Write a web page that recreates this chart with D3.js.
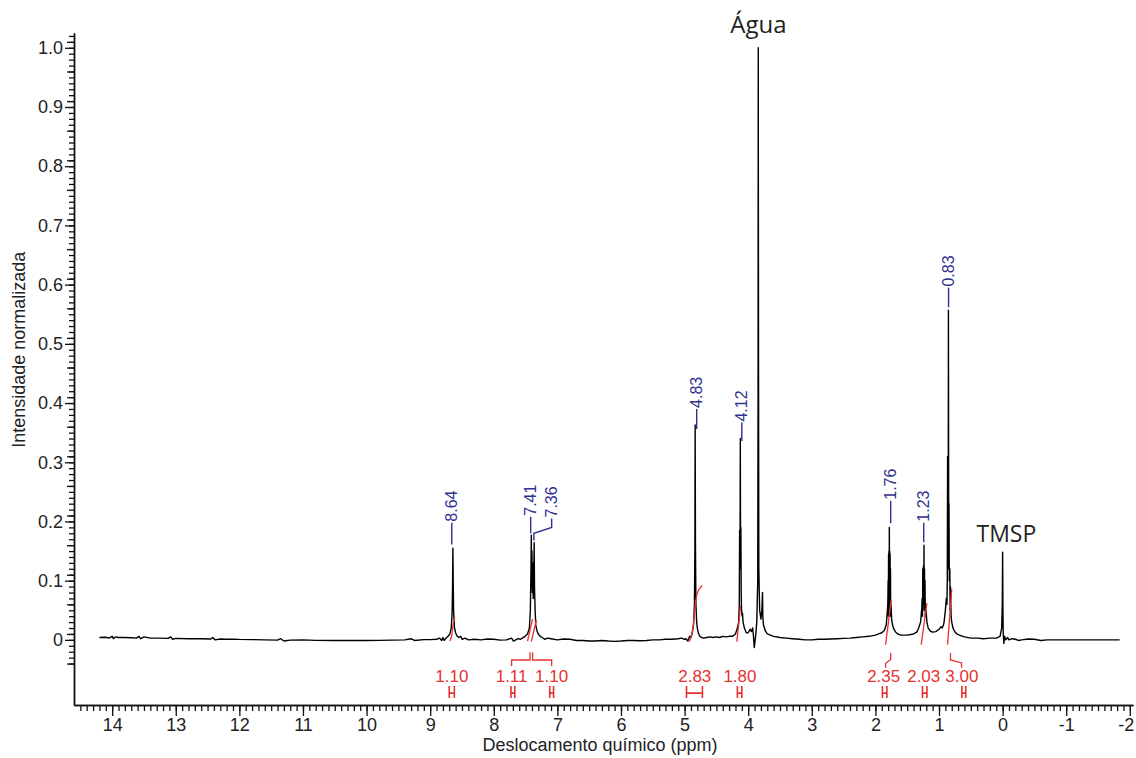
<!DOCTYPE html>
<html>
<head>
<meta charset="utf-8">
<script src="https://cdn.jsdelivr.net/npm/d3@7"></script>
<style>
  body { margin: 0; background: #fff; }
  .axis text { font-family: "Liberation Sans", Arial, sans-serif; font-size: 18px; fill: #222; }
  .axis path, .axis line { stroke: #111; stroke-width: 1.3; }
</style>
</head>
<body>
<div id="my_dataviz"></div>
<script>
// spectrum points [ppm, intensity]
var spectrum = [
  [14.2,0.004],[14.1,0.0045],[14.05,0.003],[14.0,0.006],[13.98,0.002],[13.95,0.005],[13.9,0.004],[13.8,0.004],
  [13.7,0.0035],[13.62,0.003],[13.58,0.006],[13.55,0.002],[13.5,0.005],[13.4,0.003],[13.3,0.003],[13.12,0.0025],
  [13.08,0.005],[13.05,0.001],[13.0,0.0025],[12.8,0.002],[12.6,0.002],[12.45,0.0015],[12.42,0.004],[12.38,0.0],
  [12.3,0.0015],[12.2,0.001],[12.1,0.0012],[12.0,0.0008],[11.8,0.0005],[11.6,0.0],[11.4,-0.0005],[11.35,0.002],
  [11.3,-0.002],[11.2,-0.0005],[11.0,0.0],[10.8,-0.0008],[10.5,-0.001],[10.2,-0.001],[10.0,-0.001],[9.8,-0.0008],
  [9.6,-0.0005],[9.4,0.0],[9.3,0.002],[9.25,-0.001],[9.1,0.0005],[9.0,0.0005],[8.9,0.001],[8.85,0.003],[8.82,-0.001],
  [8.8,0.004],[8.78,-0.001],[8.75,0.003],[8.72,0.006],[8.69,0.01],[8.67,0.02],[8.655,0.045],[8.648,0.09],
  [8.643,0.155],[8.638,0.1],[8.632,0.05],[8.62,0.022],[8.6,0.012],[8.58,0.007],[8.55,0.004],[8.52,0.006],
  [8.5,0.001],[8.45,0.003],[8.4,0.0],[8.3,0.001],[8.2,0.0],[8.1,0.0015],[8.0,0.001],[7.9,-0.0005],[7.8,0.0],
  [7.72,0.003],[7.69,-0.002],[7.62,0.002],[7.58,0.001],[7.55,0.003],[7.52,0.005],[7.47,0.01],[7.44,0.02],
  [7.425,0.05],[7.415,0.12],[7.41,0.177],[7.405,0.09],[7.4,0.15],[7.395,0.08],[7.385,0.13],[7.38,0.07],
  [7.37,0.12],[7.365,0.164],[7.36,0.09],[7.35,0.05],[7.34,0.025],[7.32,0.015],[7.3,0.01],[7.27,0.006],
  [7.24,0.004],[7.2,0.001],[7.15,0.003],[7.1,0.002],[7.0,0.0],[6.9,0.0015],[6.8,0.001],[6.7,-0.001],
  [6.6,-0.001],[6.5,-0.002],[6.4,-0.002],[6.3,-0.001],[6.2,-0.002],[6.1,-0.0025],[6.0,-0.002],[5.9,-0.001],
  [5.8,-0.001],[5.7,-0.0015],[5.6,-0.001],[5.5,0.0],[5.4,0.0],[5.3,0.001],[5.2,0.001],[5.1,0.002],
  [5.05,0.003],[5.0,0.001],[4.98,0.002],[4.95,-0.002],[4.92,0.006],[4.9,0.004],[4.88,0.012],[4.86,0.025],
  [4.845,0.06],[4.838,0.157],[4.834,0.363],[4.829,0.16],[4.822,0.06],[4.81,0.03],[4.8,0.02],[4.785,0.012],
  [4.76,0.006],[4.73,0.004],[4.7,0.003],[4.65,0.004],[4.6,0.005],[4.55,0.004],[4.5,0.005],[4.45,0.004],
  [4.4,0.006],[4.35,0.005],[4.3,0.006],[4.25,0.006],[4.2,0.01],[4.17,0.02],[4.15,0.03],[4.14,0.06],
  [4.135,0.185],[4.13,0.12],[4.127,0.2],[4.124,0.34],[4.12,0.15],[4.115,0.19],[4.11,0.08],[4.105,0.05],
  [4.095,0.04],[4.09,0.045],[4.08,0.03],[4.06,0.02],[4.03,0.012],[4.0,0.012],[3.97,0.018],[3.95,0.014],
  [3.93,0.02],[3.92,0.01],[3.905,-0.013],[3.895,-0.004],[3.88,0.01],[3.865,0.03],[3.85,0.1],[3.845,0.4],
  [3.842,1.0],[3.838,0.5],[3.833,0.12],[3.82,0.05],[3.8,0.035],[3.785,0.05],[3.775,0.08],[3.77,0.04],
  [3.76,0.025],[3.73,0.015],[3.7,0.01],[3.65,0.008],[3.6,0.006],[3.5,0.004],[3.4,0.003],[3.3,0.002],
  [3.2,0.001],[3.1,0.0],[3.0,0.0],[2.9,0.001],[2.8,0.001],[2.7,0.0015],[2.6,0.002],[2.5,0.0025],
  [2.4,0.003],[2.3,0.004],[2.2,0.005],[2.1,0.006],[2.0,0.008],[1.95,0.01],[1.9,0.012],[1.86,0.016],
  [1.83,0.025],[1.815,0.045],[1.805,0.06],[1.8,0.1],[1.797,0.04],[1.793,0.145],[1.79,0.05],[1.787,0.15],
  [1.784,0.06],[1.781,0.19],[1.778,0.07],[1.775,0.15],[1.772,0.06],[1.769,0.145],[1.766,0.05],[1.763,0.12],
  [1.76,0.04],[1.755,0.06],[1.745,0.035],[1.73,0.025],[1.71,0.018],[1.68,0.013],[1.65,0.01],[1.6,0.008],
  [1.5,0.008],[1.4,0.01],[1.35,0.013],[1.32,0.02],[1.29,0.03],[1.27,0.055],[1.265,0.07],[1.26,0.04],
  [1.255,0.12],[1.25,0.05],[1.245,0.125],[1.24,0.06],[1.236,0.16],[1.232,0.06],[1.228,0.12],[1.224,0.05],
  [1.22,0.1],[1.215,0.04],[1.205,0.05],[1.19,0.03],[1.17,0.02],[1.14,0.015],[1.1,0.013],[1.05,0.014],
  [1.0,0.018],[0.97,0.022],[0.95,0.02],[0.93,0.025],[0.92,0.03],[0.9,0.05],[0.885,0.07],[0.875,0.06],
  [0.87,0.1],[0.865,0.31],[0.86,0.12],[0.855,0.2],[0.852,0.557],[0.848,0.2],[0.843,0.23],[0.838,0.1],
  [0.83,0.12],[0.825,0.05],[0.82,0.09],[0.81,0.04],[0.8,0.03],[0.78,0.02],[0.76,0.015],[0.72,0.01],
  [0.68,0.008],[0.6,0.005],[0.5,0.003],[0.4,0.003],[0.3,0.002],[0.2,0.003],[0.1,0.003],[0.04,0.006],
  [0.015,0.02],[0.005,0.06],[0.0,0.148],[-0.005,0.05],[-0.01,0.01],[-0.02,-0.006],[-0.03,0.006],[-0.05,0.0],
  [-0.08,0.004],[-0.1,0.0],[-0.15,0.002],[-0.2,0.001],[-0.25,-0.001],[-0.3,0.0],[-0.4,0.0015],[-0.5,0.001],
  [-0.6,-0.001],[-0.7,0.0],[-0.8,0.0],[-1.0,0.0],[-1.2,0.0],[-1.4,0.0],[-1.6,0.0],[-1.84,0.0]
];

// integral curves [ppm, value]
var integralCurves = [
  [[8.69,-0.002],[8.66,0.006],[8.645,0.022],[8.63,0.034],[8.61,0.038]],
  [[7.47,-0.002],[7.39,0.035]],
  [[7.41,-0.003],[7.33,0.034]],
  [[4.93,-0.003],[4.87,0.01],[4.84,0.055],[4.81,0.078],[4.77,0.087],[4.72,0.092]],
  [[4.18,-0.003],[4.15,0.025],[4.12,0.058]],
  [[1.84,-0.008],[1.75,0.068]],
  [[1.28,-0.008],[1.19,0.062]],
  [[0.865,-0.008],[0.80,0.086]]
];

// integral values and marker ranges (ppm)
var integLabels = ["1.10","1.11","1.10","2.83","1.80","2.35","2.03","3.00"];
var integCenters = [8.66, 7.72, 7.09, 4.84, 4.13, 1.87, 1.24, 0.64];
var integRanges = [[8.70,8.62],[7.73,7.67],[7.12,7.06],[4.97,4.72],[4.17,4.10],[1.89,1.82],[1.26,1.19],[0.64,0.58]];
var integLinks = [
  [[7.72,-0.044],[7.72,-0.034],[7.43,-0.034],[7.43,-0.021]],
  [[7.39,-0.021],[7.39,-0.034],[7.09,-0.034],[7.09,-0.044]],
  [[1.76,-0.022],[1.76,-0.033],[1.84,-0.04],[1.84,-0.047]],
  [[0.82,-0.022],[0.82,-0.034],[0.645,-0.039],[0.645,-0.047]]
];

// peak picking labels
var peakTexts = ["8.64","7.41","7.36","4.83","4.12","1.76","1.23","0.83"];
var peakLeaders = [
  [[8.66,0.161],[8.66,0.198]],
  [[7.42,0.18],[7.42,0.208]],
  [[7.37,0.168],[7.37,0.18],[7.09,0.19],[7.09,0.205]],
  [[4.81,0.356],[4.81,0.39]],
  [[4.10,0.336],[4.10,0.367]],
  [[1.76,0.197],[1.76,0.235]],
  [[1.24,0.165],[1.24,0.198]],
  [[0.85,0.562],[0.85,0.595]]
];

var xTicks = d3.range(-2, 15);
var yTicks = d3.range(0, 11).map(function(d) { return d / 10; });

var width = 1136, height = 758;
var red = "#e4322f", navy = "#2e3192";

var svg = d3.select("#my_dataviz")
  .append("svg")
    .attr("width", width)
    .attr("height", height);

var x = d3.scaleLinear().domain([14.6, -2.05]).range([74, 1133]);
var y = d3.scaleLinear().domain([-0.11, 1.025]).range([705, 33]);

// Y axis with minor ticks
svg.append("g")
  .attr("class", "axis")
  .attr("transform", "translate(74,0)")
  .call(d3.axisLeft(y).tickValues(d3.range(-4, 103).map(function(d) { return d / 100; }))
    .tickSize(5).tickSizeOuter(0).tickFormat(""));
svg.append("g")
  .attr("class", "axis")
  .attr("transform", "translate(74,0)")
  .call(d3.axisLeft(y).tickValues(d3.range(-4, 103, 5).map(function(d) { return d / 100; }))
    .tickSize(7).tickSizeOuter(0).tickFormat(""));
svg.append("g")
  .attr("class", "axis")
  .attr("transform", "translate(74,0)")
  .call(d3.axisLeft(y).tickValues(yTicks).tickSize(9).tickSizeOuter(0).tickPadding(2)
    .tickFormat(function(d) { return d === 0 ? "0" : d3.format(".1f")(d); }));

// X axis with minor ticks
svg.append("g")
  .attr("class", "axis")
  .attr("transform", "translate(0,705)")
  .call(d3.axisBottom(x).tickValues(d3.range(-20, 146).map(function(d) { return d / 10; }))
    .tickSize(6).tickSizeOuter(0).tickFormat(""));
var xAxis = svg.append("g")
  .attr("class", "axis")
  .attr("transform", "translate(0,705)")
  .call(d3.axisBottom(x).tickValues(xTicks).tickSize(11).tickSizeOuter(0).tickPadding(2)
    .tickFormat(function(d) { return String(d); }));
// keep the last label inside the frame
xAxis.selectAll(".tick text")
  .filter(function(d) { return d === -2; })
  .attr("dx", "-4px");

// axis titles
svg.append("text")
  .attr("x", 600).attr("y", 751)
  .attr("text-anchor", "middle")
  .style("font-family", "Liberation Sans, Arial, sans-serif")
  .style("font-size", "18px").style("fill", "#222")
  .text("Deslocamento químico (ppm)");
svg.append("text")
  .attr("transform", "translate(25," + y(0.49) + ")rotate(-90)")
  .attr("text-anchor", "middle")
  .style("font-family", "Liberation Sans, Arial, sans-serif")
  .style("font-size", "18px").style("fill", "#222")
  .text("Intensidade normalizada");

var line = d3.line()
  .x(function(d) { return x(d[0]); })
  .y(function(d) { return y(d[1]); });

// spectrum
svg.append("path")
  .datum(spectrum)
  .attr("d", line)
  .attr("fill", "none")
  .attr("stroke", "#000")
  .attr("stroke-width", 1.4)
  .attr("stroke-linejoin", "round");

// integral curves
svg.selectAll("path.integ")
  .data(integralCurves)
  .enter()
  .append("path")
  .attr("class", "integ")
  .attr("d", d3.line().x(function(d) { return x(d[0]); }).y(function(d) { return y(d[1]); }).curve(d3.curveBasis))
  .attr("fill", "none")
  .attr("stroke", red)
  .attr("stroke-width", 1.3);

// integral links
svg.selectAll("path.link")
  .data(integLinks)
  .enter()
  .append("path")
  .attr("class", "link")
  .attr("d", line)
  .attr("fill", "none")
  .attr("stroke", red)
  .attr("stroke-width", 1.3);

// integral values
svg.selectAll("text.integ")
  .data(integLabels)
  .enter()
  .append("text")
  .attr("class", "integ")
  .attr("x", function(d, i) { return x(integCenters[i]); })
  .attr("y", y(-0.061))
  .attr("dy", "0.35em")
  .attr("text-anchor", "middle")
  .style("font-family", "Liberation Sans, Arial, sans-serif")
  .style("font-size", "17px")
  .style("fill", red)
  .text(function(d) { return d; });

// integral range markers
svg.selectAll("path.mark")
  .data(integRanges)
  .enter()
  .append("path")
  .attr("class", "mark")
  .attr("d", function(d) {
    var a = x(d[0]), b = x(d[1]), t = y(-0.078), m = y(-0.09), bt = y(-0.098);
    return "M" + a + "," + t + "V" + bt + "M" + b + "," + t + "V" + bt + "M" + a + "," + m + "H" + b;
  })
  .attr("fill", "none")
  .attr("stroke", red)
  .attr("stroke-width", 1.6);

// peak leaders and labels
svg.selectAll("path.leader")
  .data(peakLeaders)
  .enter()
  .append("path")
  .attr("class", "leader")
  .attr("d", line)
  .attr("fill", "none")
  .attr("stroke", navy)
  .attr("stroke-width", 1.4);

svg.selectAll("text.peak")
  .data(peakTexts)
  .enter()
  .append("text")
  .attr("class", "peak")
  .attr("transform", function(d, i) {
    var p = peakLeaders[i][peakLeaders[i].length - 1];
    return "translate(" + x(p[0]) + "," + (y(p[1]) - 1) + ")rotate(-90)";
  })
  .attr("dy", "0.35em")
  .style("font-family", "Liberation Sans, Arial, sans-serif")
  .style("font-size", "16px")
  .style("fill", navy)
  .text(function(d) { return d; });

// annotations
svg.append("text")
  .attr("x", x(3.84)).attr("y", 33)
  .attr("text-anchor", "middle")
  .style("font-family", "Open Sans, sans-serif")
  .style("font-size", "24px").style("fill", "#231f20")
  .text("Água");
svg.append("text")
  .attr("x", x(-0.06)).attr("y", 542)
  .attr("text-anchor", "middle")
  .style("font-family", "Open Sans, sans-serif")
  .style("font-size", "23px").style("fill", "#231f20")
  .text("TMSP");
</script>
</body>
</html>
